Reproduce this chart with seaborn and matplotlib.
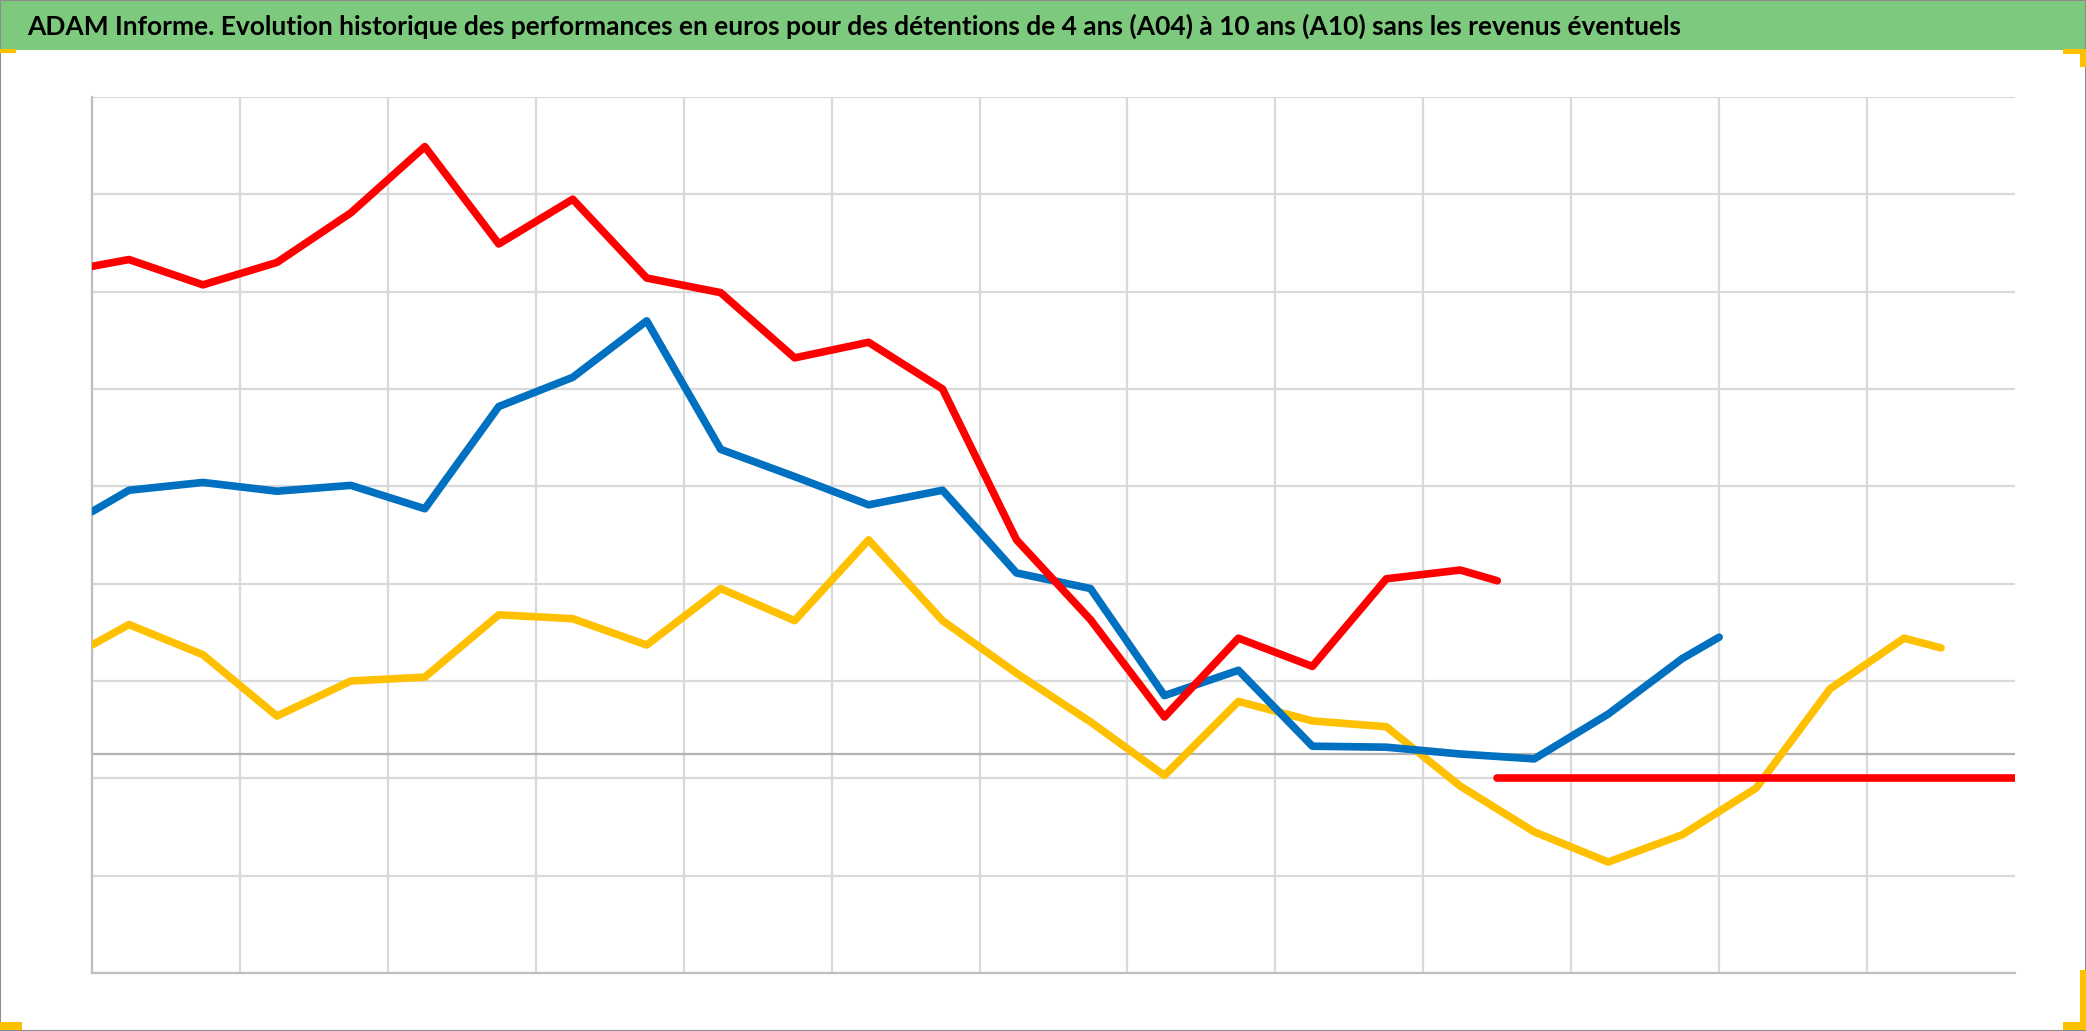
import pandas as pd
import matplotlib.pyplot as plt
import seaborn as sns
from matplotlib.patches import Rectangle

## données (axe sans graduations)
# position temporelle : une graduation verticale = 1 unité
t_rouge = [0, 0.25, 0.75, 1.25, 1.75, 2.25, 2.75, 3.25, 3.75, 4.25, 4.75, 5.25, 5.75,
           6.25, 6.75, 7.25, 7.75, 8.25, 8.75, 9.25, 9.5]
t_bleu = [0, 0.25, 0.75, 1.25, 1.75, 2.25, 2.75, 3.25, 3.75, 4.25, 4.75, 5.25, 5.75,
          6.25, 6.75, 7.25, 7.75, 8.25, 8.75, 9.25, 9.75, 10.25, 10.75, 11.0]
t_jaune = [0, 0.25, 0.75, 1.25, 1.75, 2.25, 2.75, 3.25, 3.75, 4.25, 4.75, 5.25, 5.75,
           6.25, 6.75, 7.25, 7.75, 8.25, 8.75, 9.25, 9.75, 10.25, 10.75, 11.25, 11.75,
           12.25, 12.5]

perf_a10 = [52.6, 53.3, 50.7, 53.0, 58.1, 64.9, 54.9, 59.5, 51.4, 49.9, 43.2, 44.8, 40.0,
            24.5, 16.3, 6.3, 14.4, 11.5, 20.5, 21.4, 20.3]
perf_a07 = [27.4, 29.6, 30.4, 29.5, 30.1, 27.7, 38.2, 41.2, 47.0, 33.8, 31.0, 28.1, 29.6,
            21.1, 19.5, 8.5, 11.1, 3.3, 3.2, 2.5, 2.0, 6.6, 12.3, 14.5]
perf_a04 = [13.7, 15.8, 12.7, 6.4, 10.0, 10.4, 16.8, 16.4, 13.7, 19.5, 16.2, 24.5, 16.2,
            10.8, 5.8, 0.3, 7.9, 5.9, 5.3, -0.8, -5.5, -8.6, -5.8, -1.0, 9.2, 14.4, 13.4]

# ligne horizontale rouge (niveau de référence) et ligne grise
t_ref = [9.5, 13.0]
niveau_ref = [0, 0]
niveau_gris = 2.5

titre = ("ADAM Informe. Evolution historique des performances en euros pour des "
         "détentions de 4 ans (A04) à 10 ans (A10) sans les revenus éventuels")

df_r = pd.DataFrame({'t': t_rouge, 'perf': perf_a10})
df_b = pd.DataFrame({'t': t_bleu, 'perf': perf_a07})
df_j = pd.DataFrame({'t': t_jaune, 'perf': perf_a04})
df_ref = pd.DataFrame({'t': t_ref, 'perf': niveau_ref})

sns.set_style('white')
plt.rcParams['font.family'] = ['Lato', 'DejaVu Sans']

W, H = 2086, 1031
fig = plt.figure(figsize=(W / 100, H / 100), dpi=100)
ax = fig.add_axes([92 / W, 1 - 973 / H, (2015 - 92) / W, (973 - 97) / H])

ax.axhline(niveau_gris, color='#b3b3b3', lw=1.6, zorder=1)
sns.lineplot(data=df_j, x='t', y='perf', color='#FFC000', lw=5.5, ax=ax, zorder=3)
sns.lineplot(data=df_b, x='t', y='perf', color='#0070C0', lw=5.5, ax=ax, zorder=4)
sns.lineplot(data=df_r, x='t', y='perf', color='#FF0000', lw=5.5, ax=ax, zorder=5)
sns.lineplot(data=df_ref, x='t', y='perf', color='#FF0000', lw=5.5, ax=ax, zorder=5)

ax.set_xlim(0, 13)
ax.set_ylim(-20, 70)
ax.set_xticks(range(0, 13))
ax.set_yticks(range(-20, 71, 10))
ax.grid(True, color='#d9d9d9', lw=1.6, zorder=0)
ax.set_axisbelow(True)
ax.tick_params(length=0, labelleft=False, labelbottom=False)
ax.set_xlabel('')
ax.set_ylabel('')
sns.despine(ax=ax, top=True, right=True)
for s in ['left', 'bottom']:
    ax.spines[s].set_color('#bfbfbf')
    ax.spines[s].set_linewidth(1.6)

## bandeau du titre
fig.patches.append(Rectangle((0, 1 - 50 / H), 1, 50 / H, transform=fig.transFigure,
                             facecolor='#7DC97D', edgecolor='none', zorder=0))
txt = fig.text(27 / W, 1 - 26 / H, titre, fontsize=20, fontweight='bold', color='black',
               va='center', ha='left')
# ajuster la taille pour que le titre occupe ~1660 px comme l'original
fig.canvas.draw()
larg = txt.get_window_extent().width
txt.set_fontsize(20 * 1660 / larg)

# cadre et poignées de sélection
fig.patches.append(Rectangle((0, 0), 1, 1, transform=fig.transFigure, fill=False,
                             edgecolor='#8c8c8c', lw=1.5))
orange = '#FFC000'
for (x, y, w, h) in [(0, 49, 16, 4), (2063, 49, 23, 5), (2080, 49, 6, 18),
                     (0, 1022, 22, 8), (2063, 1022, 23, 8), (2080, 970, 6, 60)]:
    fig.patches.append(Rectangle((x / W, 1 - (y + h) / H), w / W, h / H,
                                 transform=fig.transFigure, facecolor=orange,
                                 edgecolor='none'))

plt.savefig('out.png', dpi=100)
